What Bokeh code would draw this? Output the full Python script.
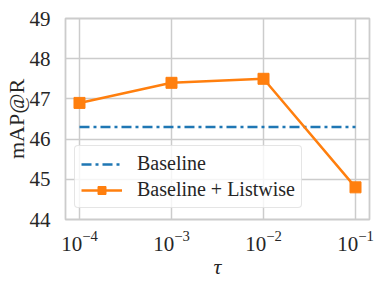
from bokeh.plotting import figure
from bokeh.models import FixedTicker, LogTickFormatter, Legend, LegendItem, Range1d
from bokeh.embed import file_html
from bokeh.resources import INLINE

taus = [1e-4, 1e-3, 1e-2, 1e-1]
listwise = [46.9, 47.4, 47.5, 44.8]
baseline = [46.3, 46.3, 46.3, 46.3]
y_ticks = [44, 45, 46, 47, 48, 49]

FONT = "Liberation Serif"
TICKFONT = "'Liberation Serif', serif"
TXT = "#262626"
GRID = "#cccccc"

p = figure(width=386, height=281, x_axis_type="log", output_backend="svg",
           toolbar_location=None, x_range=Range1d(10 ** -4.152, 10 ** -0.848),
           y_range=Range1d(44, 49),
           min_border_left=64, min_border_right=17, min_border_top=18, min_border_bottom=62)

b = p.line(taus, baseline, line_color="#1f77b4", line_width=2.5, line_dash="10 4 3 4")
l = p.line(taus, listwise, line_color="#ff7f0e", line_width=2.5)
s = p.scatter(taus, listwise, marker="square", size=11, fill_color="#ff7f0e", line_color="#ff7f0e")

p.xaxis.ticker = FixedTicker(ticks=taus)
p.xaxis.formatter = LogTickFormatter()
p.yaxis.ticker = FixedTicker(ticks=y_ticks)

for ax in (p.xaxis[0], p.yaxis[0]):
    ax.axis_line_color = None
    ax.major_tick_line_color = None
    ax.minor_tick_line_color = None
    ax.major_label_text_font = TICKFONT
    ax.major_label_text_font_size = "21px"
    ax.major_label_text_color = TXT
    ax.axis_label_text_font = FONT
    ax.axis_label_text_font_size = "22px"
    ax.axis_label_text_color = TXT
    ax.axis_label_text_font_style = "normal"

p.xaxis.axis_label = "τ"
p.xaxis.axis_label_text_font_style = "italic"
p.yaxis.axis_label = "mAP@R"
p.xaxis.major_label_standoff = 5
p.yaxis.major_label_standoff = 9
p.xaxis.axis_label_standoff = 0
p.yaxis.axis_label_standoff = -2

p.xgrid.ticker = FixedTicker(ticks=taus)
p.ygrid.ticker = FixedTicker(ticks=y_ticks)
p.grid.grid_line_color = GRID
p.grid.grid_line_width = 1.5
p.outline_line_color = GRID
p.outline_line_width = 1.8

legend = Legend(items=[LegendItem(label="Baseline", renderers=[b]),
                       LegendItem(label="Baseline + Listwise", renderers=[l, s])],
                location=(9, 11))
legend.label_text_font = FONT
legend.label_text_font_size = "20px"
legend.label_text_color = TXT
legend.glyph_width = 41
legend.margin = 0
legend.padding = 6
legend.spacing = 3
legend.label_standoff = 15
legend.border_line_color = GRID
legend.border_line_width = 1.2
legend.background_fill_alpha = 0.8
legend.border_radius = 4
p.add_layout(legend)

open("out.html", "w").write(file_html(p, INLINE))
